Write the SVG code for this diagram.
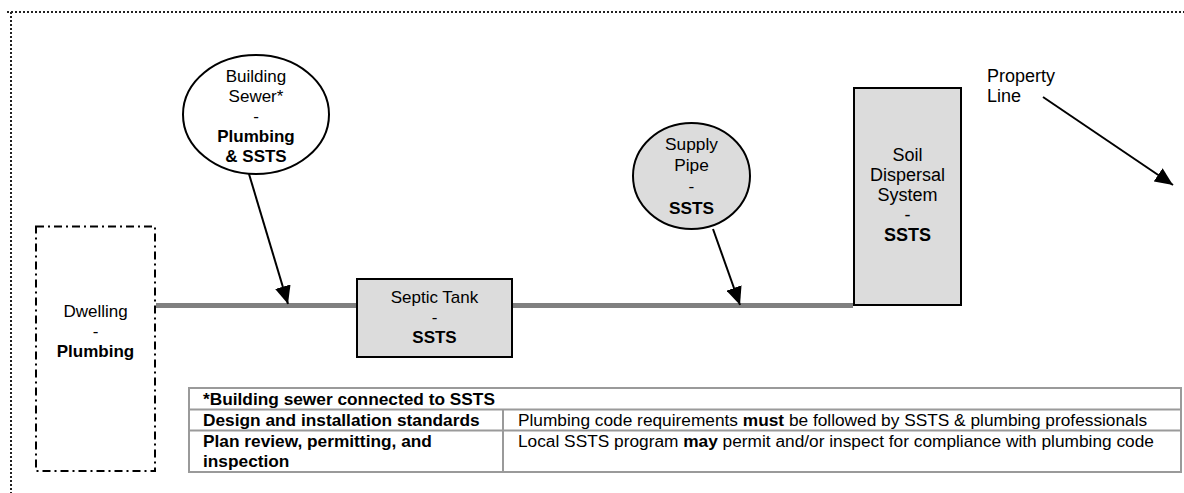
<svg xmlns="http://www.w3.org/2000/svg" width="1184" height="493" viewBox="0 0 1184 493">
<defs>
<style>
.t{font-family:"Liberation Sans",Arial,Helvetica,sans-serif;font-size:17px;fill:#000;}
.tl{font-size:18px;}
.tt{font-size:17.3px;}
.c{text-anchor:middle;}
.b{font-weight:bold;}
.shape{fill:#dcdcdc;stroke:#000;stroke-width:2;}
.pipe{stroke:#808080;stroke-width:5;fill:none;}
.arrow{stroke:#000;stroke-width:2;fill:none;marker-end:url(#ah);}
.border{stroke:#222;stroke-width:2;stroke-dasharray:2 2;fill:none;}
.tbl{stroke:#9a9a9a;stroke-width:2;fill:none;}
</style>
<marker id="ah" markerUnits="userSpaceOnUse" markerWidth="19" markerHeight="16" refX="18" refY="8" orient="auto">
<path d="M0,0 L18,8 L0,16 z" fill="#000"/>
</marker>
</defs>
<rect width="1184" height="493" fill="#fff"/>
<g id="frame">
<line class="border" x1="7" y1="12" x2="1184" y2="12"/>
<line class="border" x1="11" y1="12" x2="11" y2="493"/>
</g>
<g id="connectors">
<line class="pipe" x1="156" y1="305.5" x2="357" y2="305.5"/>
<line class="pipe" x1="512" y1="305.5" x2="853" y2="305.5"/>
<line class="arrow" x1="249" y1="174" x2="288" y2="304"/>
<line class="arrow" x1="713" y1="229" x2="740" y2="305"/>
<line class="arrow" x1="1043" y1="97" x2="1173" y2="185"/>
</g>
<g id="dwelling">
<rect x="36" y="226.5" width="119" height="244.5" fill="none" stroke="#000" stroke-width="2" stroke-dasharray="8 4 2 4"/>
<text class="t c" x="95.5" y="317">Dwelling</text>
<text class="t c" x="95.5" y="337">-</text>
<text class="t c b" x="95.5" y="357">Plumbing</text>
</g>
<g id="building-sewer">
<ellipse cx="256" cy="114.5" rx="73" ry="59.5" fill="#fff" stroke="#000" stroke-width="2"/>
<text class="t c" x="256" y="82">Building</text>
<text class="t c" x="256" y="102">Sewer*</text>
<text class="t c" x="256" y="122">-</text>
<text class="t c b" x="256" y="142">Plumbing</text>
<text class="t c b" x="256" y="162">&amp; SSTS</text>
</g>
<g id="septic-tank">
<rect class="shape" x="357" y="279" width="155" height="78"/>
<text class="t c" x="434.5" y="303">Septic Tank</text>
<text class="t c" x="434.5" y="323">-</text>
<text class="t c b" x="434.5" y="343">SSTS</text>
</g>
<g id="supply-pipe">
<ellipse class="shape" cx="691.5" cy="176" rx="58.5" ry="53"/>
<text class="t c tt" x="691.5" y="150">Supply</text>
<text class="t c tt" x="691.5" y="171">Pipe</text>
<text class="t c tt" x="691.5" y="192">-</text>
<text class="t c b tt" x="691.5" y="214">SSTS</text>
</g>
<g id="soil-dispersal">
<rect class="shape" x="854" y="88" width="107" height="217"/>
<text class="t c tl" x="907.5" y="161">Soil</text>
<text class="t c tl" x="907.5" y="181">Dispersal</text>
<text class="t c tl" x="907.5" y="201">System</text>
<text class="t c tl" x="907.5" y="221">-</text>
<text class="t c b tl" x="907.5" y="241">SSTS</text>
</g>
<g id="property-line">
<text class="t tl" x="987" y="82">Property</text>
<text class="t tl" x="987" y="102">Line</text>
</g>
<g id="table">
<rect class="tbl" x="189" y="388" width="992" height="84"/>
<line class="tbl" x1="189" y1="409.5" x2="1181" y2="409.5"/>
<line class="tbl" x1="189" y1="430.5" x2="1181" y2="430.5"/>
<line class="tbl" x1="503" y1="409.5" x2="503" y2="472"/>
<text class="t tt b" x="203" y="405">*Building sewer connected to SSTS</text>
<text class="t tt b" x="203" y="426">Design and installation standards</text>
<text class="t tt" x="518" y="426">Plumbing code requirements <tspan class="b">must</tspan> be followed by SSTS &amp; plumbing professionals</text>
<text class="t tt b" x="203" y="447">Plan review, permitting, and</text>
<text class="t tt b" x="203" y="467">inspection</text>
<text class="t tt" x="518" y="447">Local SSTS program <tspan class="b">may</tspan> permit and/or inspect for compliance with plumbing code</text>
</g>
</svg>
